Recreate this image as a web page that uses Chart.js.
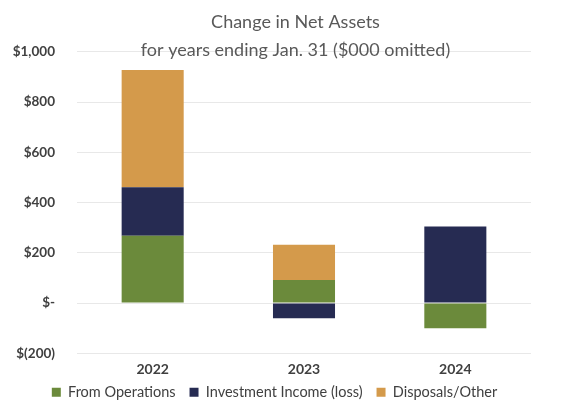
<!DOCTYPE html>
<html>
<head>
<meta charset="utf-8">
<script src="https://cdn.jsdelivr.net/npm/chart.js@4/dist/chart.umd.min.js"></script>
<style>
  html, body { margin: 0; padding: 0; background: #fff; }
  #wrap { width: 581px; height: 407px; position: relative; }
</style>
</head>
<body>
<div id="wrap"><canvas id="chart"></canvas></div>
<script>
const YEARS = ['2022', '2023', '2024'];
const FROM_OPERATIONS = [268, 92, -100];
const INVESTMENT_INCOME = [193, -60, 305];
const DISPOSALS_OTHER = [467, 140, 0];
const Y_TICKS = [-200, 0, 200, 400, 600, 800, 1000];

// accounting style: $1,000  $-  $(200)
function money(v) {
  if (v === 0) return '$-';
  const s = Math.abs(v).toLocaleString('en-US');
  return v < 0 ? '$(' + s + ')' : '$' + s;
}

const FONT = '"Lato", "Open Sans", sans-serif';

// nudge the legend box: a bit left of centre and tucked under the years
const legendNudge = {
  id: 'legendNudge',
  afterLayout(chart) {
    const lg = chart.legend;
    lg.left -= 21; lg.right -= 21;
    lg.top -= 7; lg.bottom -= 7;
  }
};

new Chart(document.getElementById('chart'), {
  type: 'bar',
  data: {
    labels: YEARS,
    datasets: [
      { label: 'From Operations', data: FROM_OPERATIONS, backgroundColor: '#6b8a3b' },
      { label: 'Investment Income (loss)', data: INVESTMENT_INCOME, backgroundColor: '#262b52' },
      { label: 'Disposals/Other', data: DISPOSALS_OTHER, backgroundColor: '#d49a4b' },
    ]
  },
  plugins: [legendNudge],
  options: {
    responsive: true, maintainAspectRatio: false, animation: false,
    layout: { padding: { left: 10, right: 0, top: 0, bottom: 0 } },
    datasets: { bar: { categoryPercentage: 1, barPercentage: 0.41 } },
    plugins: {
      title: {
        display: true,
        text: ['Change in Net Assets', 'for years ending Jan. 31 ($000 omitted)'],
        color: '#595959',
        font: { family: FONT, size: 18, weight: 'normal', lineHeight: 1.55 },
        padding: { top: 8, bottom: -12 }
      },
      legend: {
        position: 'bottom',
        maxHeight: 29,
        labels: {
          color: '#404040',
          font: { family: FONT, size: 14.5 },
          boxWidth: 9, boxHeight: 9, padding: 14
        }
      },
      tooltip: { enabled: false }
    },
    scales: {
      x: {
        stacked: true,
        grid: { display: false },
        border: { display: false },
        // tight line height keeps the year row compact
        ticks: { color: '#404040', font: { family: FONT, size: 14, weight: 'bold', lineHeight: 0.05 }, padding: 8 }
      },
      y: {
        stacked: true,
        min: -200, max: 1000,
        afterBuildTicks: scale => { scale.ticks = Y_TICKS.map(v => ({ value: v })); },
        afterFit: scale => { scale.width = 67; },
        grid: { color: '#e8e8e8', drawTicks: false },
        border: { display: false },
        ticks: {
          color: '#404040',
          font: { family: FONT, size: 13.5, weight: 'bold' },
          padding: 22,
          callback: v => money(v)
        }
      },
      // blank strip on the right so the plot stops short of the edge
      side: {
        position: 'right',
        afterFit: scale => { scale.width = 50; },
        grid: { display: false },
        border: { display: false },
        ticks: { display: false }
      }
    }
  }
});
</script>
</body>
</html>
